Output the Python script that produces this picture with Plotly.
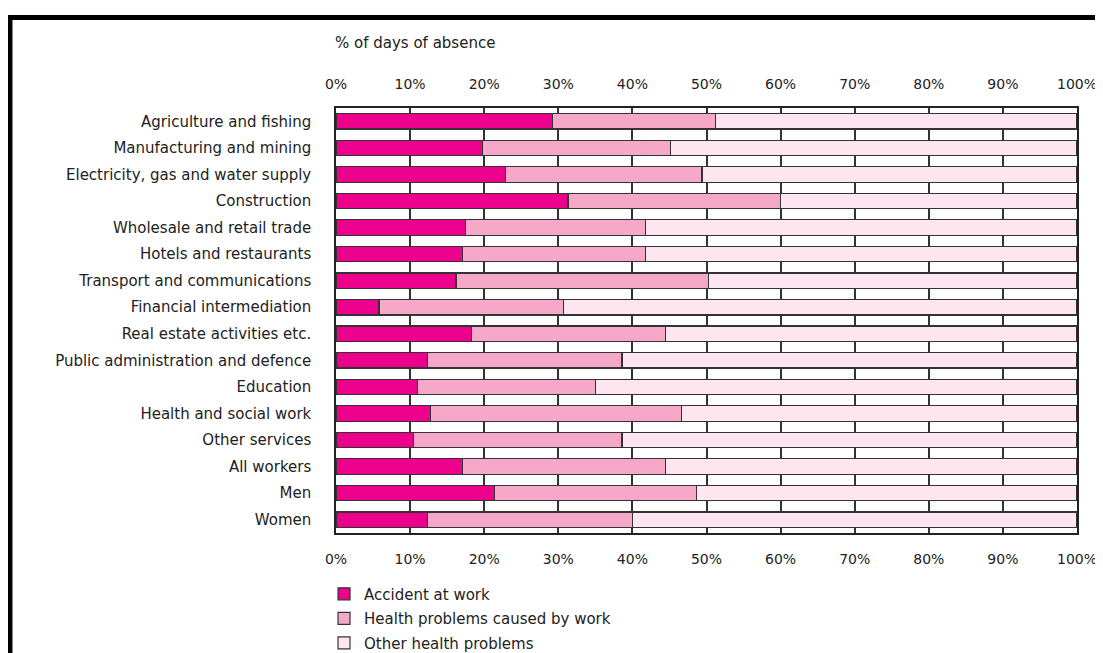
import plotly.graph_objects as go

categories = [
    "Agriculture and fishing", "Manufacturing and mining", "Electricity, gas and water supply",
    "Construction", "Wholesale and retail trade", "Hotels and restaurants",
    "Transport and communications", "Financial intermediation", "Real estate activities etc.",
    "Public administration and defence", "Education", "Health and social work",
    "Other services", "All workers", "Men", "Women",
]
accident = [29.2, 19.8, 22.9, 31.3, 17.5, 17.1, 16.2, 5.8, 18.3, 12.4, 11.0, 12.8, 10.5, 17.1, 21.4, 12.4]
health_work = [22.0, 25.3, 26.5, 28.7, 24.3, 24.7, 34.1, 24.9, 26.2, 26.2, 24.0, 33.8, 28.1, 27.4, 27.2, 27.6]
other = [round(100 - a - h, 1) for a, h in zip(accident, health_work)]

series_names = ["Accident at work", "Health problems caused by work", "Other health problems"]
series_values = [accident, health_work, other]
series_colors = ["#EC008C", "#F5A8C8", "#FDE6EF"]
tick_vals = list(range(0, 101, 10))
tick_text = [f"{v}%" for v in tick_vals]

FONT = "DejaVu Sans, Liberation Sans, sans-serif"
TXT = "#222222"

fig = go.Figure()
for i, (name, vals, col) in enumerate(zip(series_names, series_values, series_colors)):
    fig.add_trace(go.Bar(
        y=categories, x=vals, name=name, orientation="h",
        marker=dict(color=col, line=dict(color="#333333", width=1.2)),
        legendgroup=f"g{i}",
    ))

# invisible trace to carry the top axis
fig.add_trace(go.Scatter(x=[0, 100], y=[categories[0], categories[0]], xaxis="x2",
                         mode="markers", marker=dict(opacity=0), showlegend=False,
                         hoverinfo="skip"))

axis_common = dict(
    range=[0, 100], tickvals=tick_vals, ticktext=tick_text,
    showgrid=True, gridcolor="#333333", gridwidth=1.5,
    ticks="outside", ticklen=12, tickcolor="rgba(0,0,0,0)",
    tickfont=dict(family=FONT, size=14, color=TXT),
    zeroline=False, fixedrange=True, automargin=False,
)

n = len(categories)
fig.update_layout(
    width=1095, height=645,
    margin=dict(l=328, r=26, t=100, b=120, autoexpand=False),
    paper_bgcolor="white", plot_bgcolor="white",
    barmode="stack", bargap=0.42,
    font=dict(family=FONT, size=15, color=TXT),
    xaxis=dict(**axis_common, showline=True, linecolor="#222222", linewidth=1.5, mirror=True),
    xaxis2=dict(**axis_common, overlaying="x", side="top", showline=False),
    yaxis=dict(range=[n - 0.5, -0.5], autorange=False, showgrid=False, ticks="outside",
               ticklen=20, tickcolor="rgba(0,0,0,0)",
               tickfont=dict(family=FONT, size=15, color=TXT),
               showline=True, linecolor="#222222", linewidth=1.5, mirror=True,
               fixedrange=True, automargin=False),
    legend=dict(x=0.2886, xref="container", xanchor="left", y=0.117, yref="container",
                yanchor="top", orientation="v",
                traceorder="grouped", tracegroupgap=2, itemwidth=30,
                font=dict(family=FONT, size=15, color=TXT), bgcolor="rgba(0,0,0,0)"),
    showlegend=True,
    annotations=[dict(text="% of days of absence", x=-0.004, xanchor="left", y=1.152,
                      yanchor="middle", xref="paper", yref="paper", showarrow=False,
                      font=dict(family=FONT, size=15, color=TXT))],
    shapes=[
        dict(type="line", xref="paper", yref="paper", x0=-0.44, x1=1.1, y0=1.213, y1=1.213,
             line=dict(color="black", width=5)),
        dict(type="line", xref="paper", yref="paper", x0=-0.44, x1=-0.44, y0=1.219, y1=-0.4,
             line=dict(color="black", width=5)),
    ],
)

fig.write_html("out.html")
